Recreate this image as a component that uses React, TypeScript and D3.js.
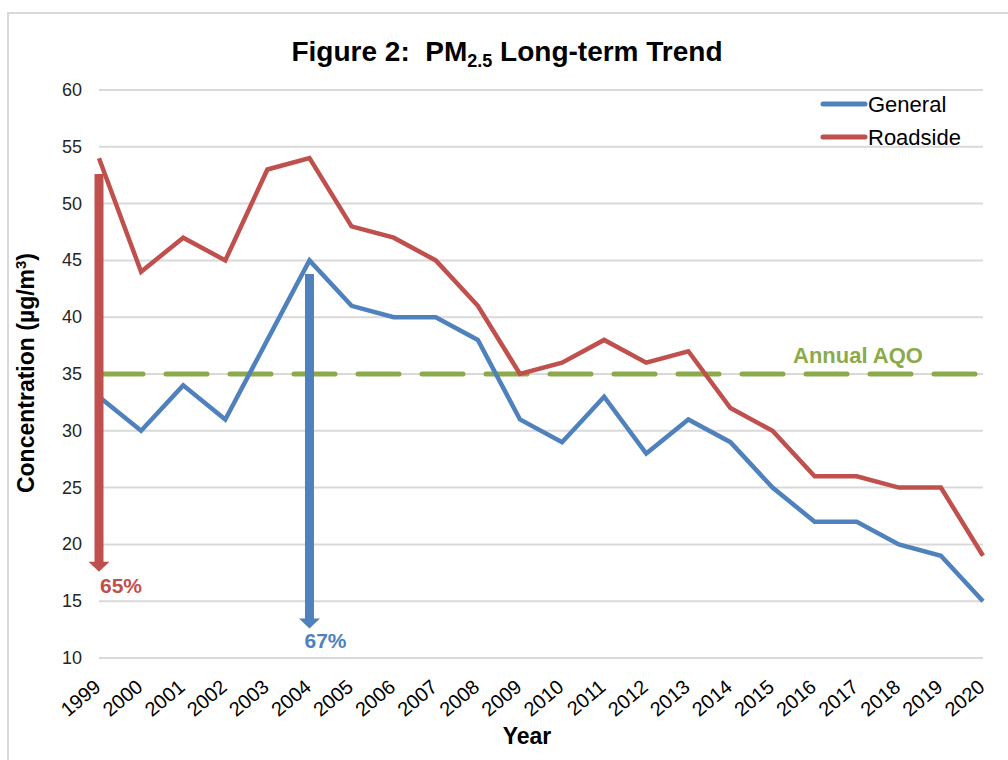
import React, { useRef, useEffect } from 'react';
import * as d3 from 'd3';

const years = [
  '1999', '2000', '2001', '2002', '2003', '2004', '2005', '2006', '2007', '2008', '2009',
  '2010', '2011', '2012', '2013', '2014', '2015', '2016', '2017', '2018', '2019', '2020',
];
const general = [33, 30, 34, 31, 38, 45, 41, 40, 40, 38, 31, 29, 33, 28, 31, 29, 25, 22, 22, 20, 19, 15];
const roadside = [54, 44, 47, 45, 53, 54, 48, 47, 45, 41, 35, 36, 38, 36, 37, 32, 30, 26, 26, 25, 25, 19];
const yTicks = [10, 15, 20, 25, 30, 35, 40, 45, 50, 55, 60];
const aqo = 35;

// reduction arrows: year, top value, tip value, label
const arrows = [
  { year: '1999', from: 52.6, to: 17.6, label: '65%', key: 'roadside' },
  { year: '2004', from: 43.8, to: 12.6, label: '67%', key: 'general' },
];

const colors = { general: '#4F81BD', roadside: '#C0504D', aqo: '#8CAA4B' };

export default function App() {
  const svgRef = useRef<SVGSVGElement>(null);

  useEffect(() => {
    document.body.style.margin = '0';
    const w = 1008;
    const h = 760;
    const svg = d3.select(svgRef.current);
    svg.selectAll('*').remove();
    svg.attr('width', w).attr('height', h).style('display', 'block');

    // frame
    svg
      .append('rect')
      .attr('x', 8)
      .attr('y', 13)
      .attr('width', 1100)
      .attr('height', 900)
      .attr('fill', 'white')
      .attr('stroke', '#d9d9d9')
      .attr('stroke-width', 2);

    const x = d3.scalePoint().domain(years).range([99, 983]);
    const y = d3.scaleLinear().domain([10, 60]).range([658, 90]);

    // grid lines
    svg
      .append('g')
      .selectAll('line')
      .data(yTicks)
      .join('line')
      .attr('x1', 99)
      .attr('x2', 983)
      .attr('y1', (d) => y(d))
      .attr('y2', (d) => y(d))
      .attr('stroke', '#d9d9d9')
      .attr('stroke-width', 2);

    // y tick labels
    svg
      .append('g')
      .selectAll('text')
      .data(yTicks)
      .join('text')
      .attr('x', 82)
      .attr('y', (d) => y(d) + 6)
      .attr('text-anchor', 'end')
      .attr('font-family', 'Liberation Sans, Arial, sans-serif')
      .attr('font-size', 18)
      .attr('fill', '#262626')
      .text((d) => d);

    // x tick labels
    svg
      .append('g')
      .selectAll('text')
      .data(years)
      .join('text')
      .attr('transform', (d) => `translate(${x(d)! + 3},689) rotate(-40)`)
      .attr('text-anchor', 'end')
      .attr('font-family', 'Liberation Sans, Arial, sans-serif')
      .attr('font-size', 20)
      .attr('fill', '#000')
      .text((d) => d);

    // AQO line
    svg
      .append('line')
      .attr('x1', 102)
      .attr('x2', 980)
      .attr('y1', y(aqo))
      .attr('y2', y(aqo))
      .attr('stroke', colors.aqo)
      .attr('stroke-width', 5)
      .attr('stroke-linecap', 'round')
      .attr('stroke-dasharray', '41 23');

    svg
      .append('text')
      .attr('x', 793)
      .attr('y', 363)
      .attr('font-family', 'Liberation Sans, Arial, sans-serif')
      .attr('font-weight', 'bold')
      .attr('font-size', 22)
      .attr('fill', colors.aqo)
      .text('Annual AQO');

    // series lines
    const line = d3
      .line<number>()
      .x((d, i) => x(years[i])!)
      .y((d) => y(d));

    const series = [
      { key: 'roadside', values: roadside },
      { key: 'general', values: general },
    ];
    svg
      .append('g')
      .selectAll('path')
      .data(series)
      .join('path')
      .attr('d', (d) => line(d.values))
      .attr('fill', 'none')
      .attr('stroke', (d) => colors[d.key as 'general' | 'roadside'])
      .attr('stroke-width', 4.5)
      .attr('stroke-linejoin', 'miter');

    // arrows
    arrows.forEach((a) => {
      const cx = x(a.year)!;
      const top = y(a.from);
      const tip = y(a.to);
      const base = tip - 10;
      const p = d3.path();
      p.moveTo(cx - 4.5, top);
      p.lineTo(cx + 4.5, top);
      p.lineTo(cx + 4.5, base);
      p.lineTo(cx + 10.5, base);
      p.lineTo(cx, tip);
      p.lineTo(cx - 10.5, base);
      p.lineTo(cx - 4.5, base);
      p.closePath();
      const c = colors[a.key as 'general' | 'roadside'];
      svg.append('path').attr('d', p.toString()).attr('fill', c);
      svg
        .append('text')
        .attr('x', a.key === 'roadside' ? cx + 1 : cx - 5)
        .attr('y', tip + (a.key === 'roadside' ? 21 : 20))
        .attr('font-family', 'Liberation Sans, Arial, sans-serif')
        .attr('font-weight', 'bold')
        .attr('font-size', 21)
        .attr('fill', c)
        .text(a.label);
    });

    // legend
    const legend = svg.append('g');
    const items = [
      { key: 'general', label: 'General', y: 104 },
      { key: 'roadside', label: 'Roadside', y: 137 },
    ];
    items.forEach((it) => {
      legend
        .append('line')
        .attr('x1', 823)
        .attr('x2', 865)
        .attr('y1', it.y)
        .attr('y2', it.y)
        .attr('stroke', colors[it.key as 'general' | 'roadside'])
        .attr('stroke-width', 5)
        .attr('stroke-linecap', 'round');
      legend
        .append('text')
        .attr('x', 868)
        .attr('y', it.y + 8)
        .attr('font-family', 'Liberation Sans, Arial, sans-serif')
        .attr('font-size', 22)
        .attr('fill', '#000')
        .text(it.label);
    });

    // title
    const title = svg
      .append('text')
      .attr('x', 507)
      .attr('y', 61)
      .attr('text-anchor', 'middle')
      .attr('font-family', 'Liberation Sans, Arial, sans-serif')
      .attr('font-weight', 'bold')
      .attr('font-size', 28)
      .attr('fill', '#000');
    title.append('tspan').text('Figure 2:\u00a0 PM');
    title.append('tspan').attr('font-size', 18).attr('dy', 6).text('2.5');
    title.append('tspan').attr('dy', -6).text(' Long-term Trend');

    // axis titles
    const yt = svg
      .append('text')
      .attr('transform', 'translate(34,373) rotate(-90)')
      .attr('text-anchor', 'middle')
      .attr('font-family', 'Liberation Sans, Arial, sans-serif')
      .attr('font-weight', 'bold')
      .attr('font-size', 23)
      .attr('fill', '#000');
    yt.append('tspan').text('Concentration (µg/m');
    yt.append('tspan').attr('font-size', 15).attr('dy', -8).text('3');
    yt.append('tspan').attr('dy', 8).text(')');

    svg
      .append('text')
      .attr('x', 527)
      .attr('y', 744)
      .attr('text-anchor', 'middle')
      .attr('font-family', 'Liberation Sans, Arial, sans-serif')
      .attr('font-weight', 'bold')
      .attr('font-size', 23)
      .attr('fill', '#000')
      .text('Year');
  }, []);

  return <svg ref={svgRef}></svg>;
}
